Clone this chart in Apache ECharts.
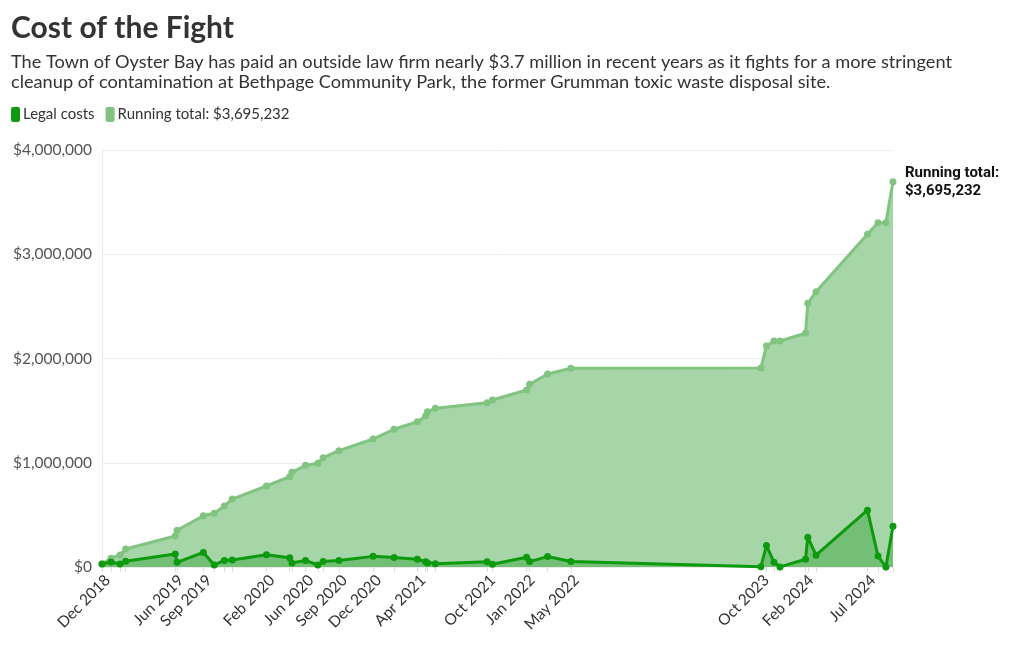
<!DOCTYPE html>
<html>
<head>
<meta charset="utf-8">
<script src="https://cdn.jsdelivr.net/npm/echarts@6/dist/echarts.min.js"></script>
<style>
html,body{margin:0;padding:0;background:#fff;}
#chart{width:1020px;height:650px;}
</style>
</head>
<body>
<div id="chart"></div>
<script>
const dates = ['2018-12-15','2019-01-08','2019-02-01','2019-02-16','2019-06-28','2019-07-03','2019-09-11','2019-10-10','2019-11-06','2019-11-27',
  '2020-02-26','2020-04-28','2020-05-04','2020-06-09','2020-07-12','2020-07-26','2020-09-06','2020-12-06','2021-01-31','2021-04-03',
  '2021-04-25','2021-04-30','2021-05-21','2021-10-06','2021-10-20','2022-01-19','2022-01-27','2022-03-16','2022-05-17','2023-10-05',
  '2023-10-20','2023-11-09','2023-11-25','2024-02-01','2024-02-07','2024-02-29','2024-07-15','2024-08-12','2024-09-02','2024-09-21'];
// Legal costs per payment (USD)
const legalCosts = [29000,48000,28000,55000,125000,45000,140000,20000,63000,67000,
  118000,89000,38000,63000,19000,52000,62000,102000,90000,74000,
  50000,38000,32000,50000,26000,94000,52000,100000,52000,2000,
  207000,45000,1000,74000,286000,113000,545000,105000,1000,392000];
// Running total (USD)
const runningTotal = [29000,85000,115000,172000,297000,352000,492000,515000,585000,652000,
  777000,866000,908000,975000,995000,1049000,1116000,1228000,1321000,1394000,
  1448000,1490000,1522000,1576000,1602000,1698000,1752000,1851000,1906000,1908000,
  2120000,2168000,2168000,2242000,2530000,2641000,3191000,3303000,3303000,3695232];
// Labelled ticks on the x axis
const tickDates = ['2018-12-15','2019-06-28','2019-09-11','2020-02-26','2020-06-09','2020-09-06','2020-12-06','2021-04-03',
  '2021-10-06','2022-01-19','2022-05-17','2023-10-05','2024-02-01','2024-07-15'];
const tickLabels = ['Dec 2018','Jun 2019','Sep 2019','Feb 2020','Jun 2020','Sep 2020','Dec 2020','Apr 2021',
  'Oct 2021','Jan 2022','May 2022','Oct 2023','Feb 2024','Jul 2024'];
const yTicks = [0,1000000,2000000,3000000,4000000];

const ts = d => Date.UTC(+d.slice(0,4), +d.slice(5,7)-1, +d.slice(8,10));
const tickTs = tickDates.map(ts);
const FONT = 'Lato';

const chart = echarts.init(document.getElementById('chart'), null, {renderer:'canvas'});
chart.setOption({
  animation:false,
  textStyle:{fontFamily:FONT},
  title:{
    left:6, top:8,
    text:'Cost of the Fight',
    textStyle:{fontFamily:FONT, fontSize:30, fontWeight:'bold', color:'#333'},
    subtext:'The Town of Oyster Bay has paid an outside law firm nearly $3.7 million in recent years as it fights for a more stringent\ncleanup of contamination at Bethpage Community Park, the former Grumman toxic waste disposal site.',
    subtextStyle:{fontFamily:FONT, fontSize:18.2, color:'#333', lineHeight:20},
    itemGap:9
  },
  legend:{
    left:11, top:107, padding:0,
    icon:'roundRect', itemWidth:9, itemHeight:15, itemGap:11,
    textStyle:{fontFamily:FONT, fontSize:15, color:'#333', padding:[0,0,0,-2]},
    data:['Legal costs','Running total: $3,695,232']
  },
  grid:{left:102, right:127, top:150, bottom:83, containLabel:false},
  xAxis:{
    type:'value',
    min:ts(dates[0]), max:ts(dates[dates.length-1]),
    axisLine:{show:false},
    axisTick:{show:true, customValues:dates.map(ts), length:5, lineStyle:{color:'#dddddd'}},
    axisLabel:{
      customValues:tickTs, rotate:45, fontFamily:FONT, fontSize:15.5, color:'#333', margin:5,
      verticalAlign:'top',
      formatter:function(v){ const i = tickTs.indexOf(v); return i >= 0 ? tickLabels[i] : ''; }
    },
    splitLine:{show:false}
  },
  yAxis:{
    type:'value', min:yTicks[0], max:yTicks[yTicks.length-1], interval:1000000,
    axisLine:{show:true, lineStyle:{color:'#ebebeb'}},
    axisTick:{show:false},
    axisLabel:{fontFamily:FONT, fontSize:15.5, color:'#555', margin:10,
      formatter:function(v){ return '$' + v.toLocaleString('en-US'); }},
    splitLine:{lineStyle:{color:'#ebebeb'}}
  },
  series:[
    {
      name:'Running total: $3,695,232', type:'line', z:2,
      data:dates.map((d,i)=>[ts(d), runningTotal[i]]),
      color:'#85c785',
      lineStyle:{width:3, color:'#80c480'},
      itemStyle:{color:'#80c480'},
      symbol:'circle', symbolSize:7, showAllSymbol:true,
      areaStyle:{color:'#a6d5a8', opacity:1},
      endLabel:{show:true, formatter:'Running total:\n$3,695,232', fontFamily:'Roboto', fontWeight:'bold',
        fontSize:15, color:'#111', lineHeight:18, distance:12}
    },
    {
      name:'Legal costs', type:'line', z:3,
      data:dates.map((d,i)=>[ts(d), legalCosts[i]]),
      color:'#0e9a0e',
      lineStyle:{width:3, color:'#0e9a0e'},
      itemStyle:{color:'#0e9a0e'},
      symbol:'circle', symbolSize:7, showAllSymbol:true,
      areaStyle:{color:'#74bf76', opacity:1}
    }
  ]
});
</script>
</body>
</html>
